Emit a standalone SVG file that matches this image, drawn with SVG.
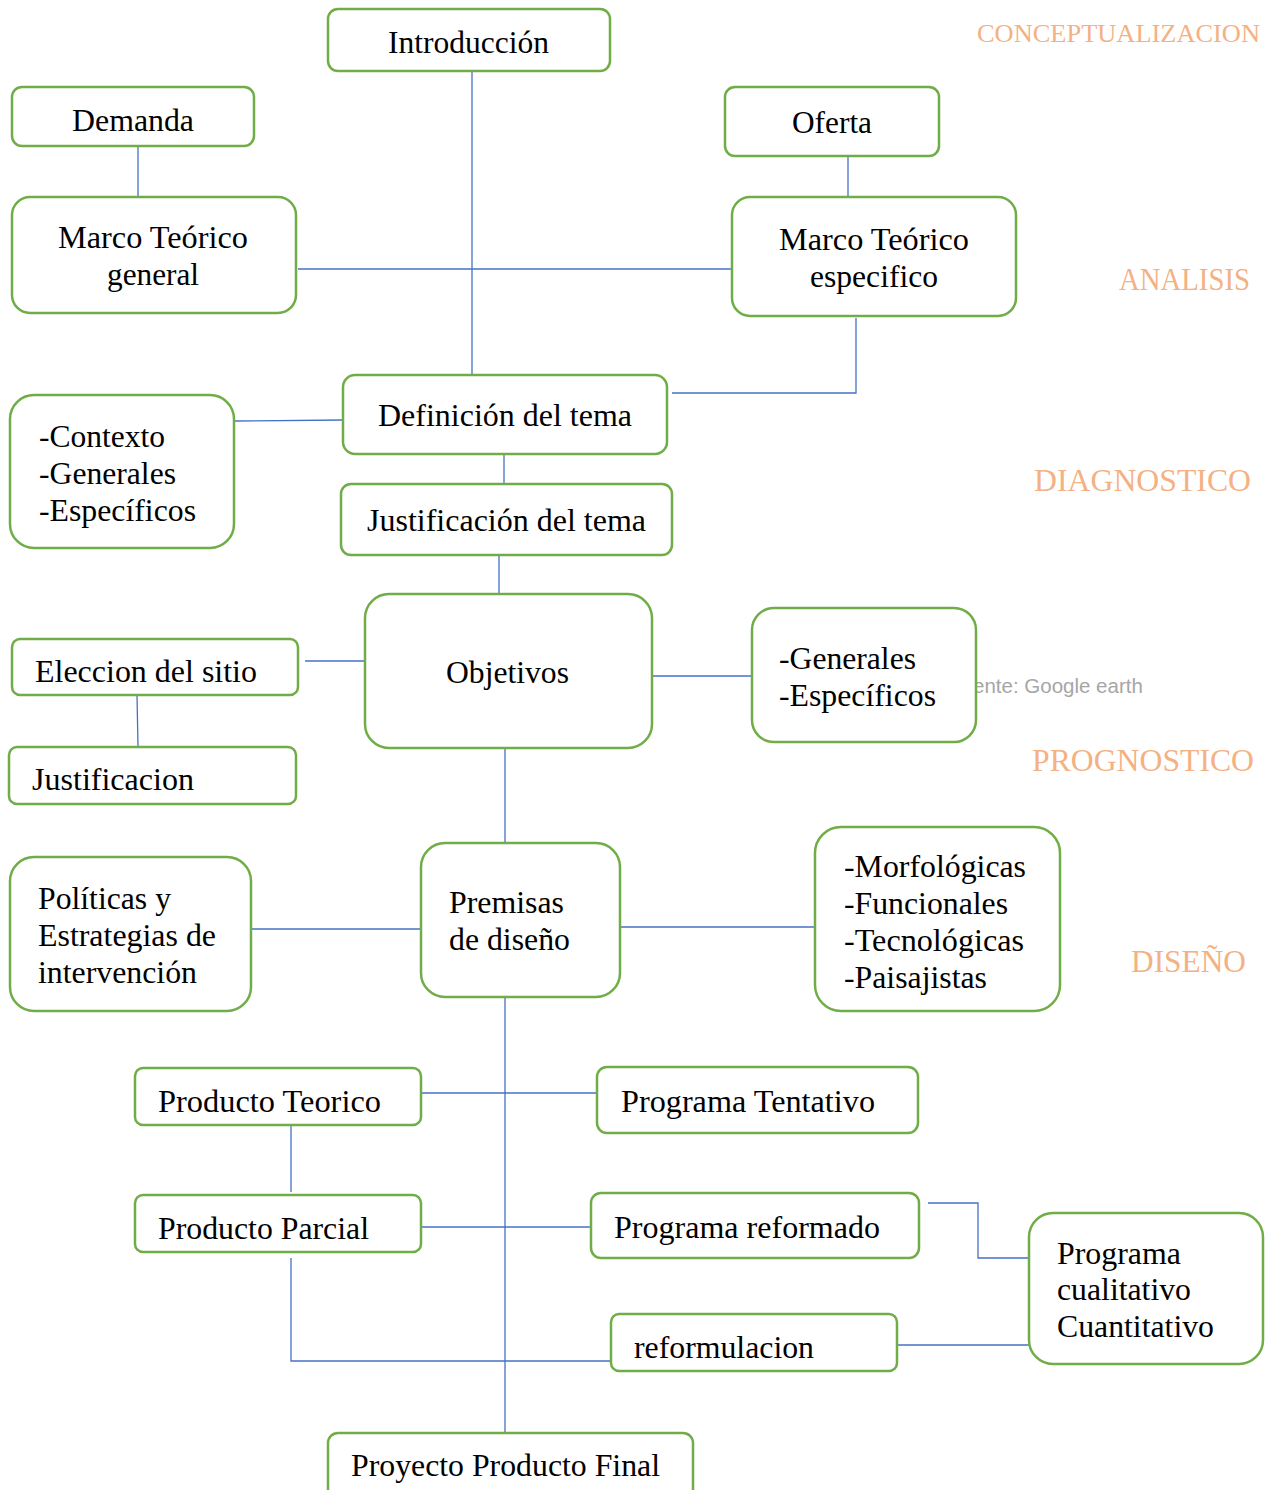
<svg xmlns="http://www.w3.org/2000/svg" width="1274" height="1490" viewBox="0 0 1274 1490">
<style>
.b{fill:#fff;stroke:#70AD47;stroke-width:2.5}
.t{font-family:"Liberation Serif","Times New Roman",serif;font-size:31px;fill:#000}
.o{font-family:"Liberation Serif","Times New Roman",serif;font-size:31px;fill:#F4B183}
.c{fill:none;stroke:#4472C4;stroke-width:1.3}
</style>
<rect width="1274" height="1490" fill="#fff"/>
<text x="973" y="693" font-family="Liberation Sans, Arial, sans-serif" font-size="20.5" fill="#A6A6A6">ente: Google earth</text>
<g id="labels">
<text class="o" x="977" y="42" font-size="26" style="font-size:26px" textLength="283" lengthAdjust="spacingAndGlyphs">CONCEPTUALIZACION</text>
<text class="o" x="1119" y="290" textLength="131" lengthAdjust="spacingAndGlyphs">ANALISIS</text>
<text class="o" x="1034" y="491" textLength="217" lengthAdjust="spacingAndGlyphs">DIAGNOSTICO</text>
<text class="o" x="1032" y="771" textLength="222" lengthAdjust="spacingAndGlyphs">PROGNOSTICO</text>
<text class="o" x="1131" y="972" textLength="115" lengthAdjust="spacingAndGlyphs">DISEÑO</text>
</g>
<g id="connectors">
<path class="c" d="M472 71V375"/>
<path class="c" d="M298 269H732"/>
<path class="c" d="M138 146V197"/>
<path class="c" d="M848 156V197"/>
<path class="c" d="M856 318V393H672"/>
<path class="c" d="M234 421L343 420"/>
<path class="c" d="M504 454V484"/>
<path class="c" d="M499 555V600"/>
<path class="c" d="M305 661H367"/>
<path class="c" d="M137 695L138 747"/>
<path class="c" d="M652 676H752"/>
<path class="c" d="M505 748V843"/>
<path class="c" d="M251 929H421"/>
<path class="c" d="M620 927H815"/>
<path class="c" d="M505 993V1433"/>
<path class="c" d="M421 1093H597"/>
<path class="c" d="M291 1125V1192"/>
<path class="c" d="M421 1227H591"/>
<path class="c" d="M928 1203H978V1258H1029"/>
<path class="c" d="M291 1258V1361H611"/>
<path class="c" d="M897 1345H1029"/>
</g>
<g id="introduccion"><rect class="b" x="328" y="9" width="282" height="62" rx="10"/><text class="t" x="388" y="53" textLength="161" lengthAdjust="spacingAndGlyphs">Introducción</text></g>
<g id="demanda"><rect class="b" x="12" y="87" width="242" height="59" rx="10"/><text class="t" x="72" y="131" textLength="122" lengthAdjust="spacingAndGlyphs">Demanda</text></g>
<g id="oferta"><rect class="b" x="725" y="87" width="214" height="69" rx="10"/><text class="t" x="792" y="133" textLength="80" lengthAdjust="spacingAndGlyphs">Oferta</text></g>
<g id="marco-general"><rect class="b" x="12" y="197" width="284" height="116" rx="18"/><text class="t" x="58" y="248" textLength="190" lengthAdjust="spacingAndGlyphs">Marco Teórico</text><text class="t" x="107" y="285" textLength="92" lengthAdjust="spacingAndGlyphs">general</text></g>
<g id="marco-especifico"><rect class="b" x="732" y="197" width="284" height="119" rx="18"/><text class="t" x="779" y="250" textLength="190" lengthAdjust="spacingAndGlyphs">Marco Teórico</text><text class="t" x="810" y="287" textLength="128" lengthAdjust="spacingAndGlyphs">especifico</text></g>
<g id="definicion"><rect class="b" x="343" y="375" width="324" height="79" rx="12"/><text class="t" x="378" y="426" textLength="254" lengthAdjust="spacingAndGlyphs">Definición del tema</text></g>
<g id="contexto"><rect class="b" x="10" y="395" width="224" height="153" rx="24"/><text class="t" x="39" y="447" textLength="126" lengthAdjust="spacingAndGlyphs">-Contexto</text><text class="t" x="39" y="484" textLength="137" lengthAdjust="spacingAndGlyphs">-Generales</text><text class="t" x="39" y="521" textLength="157" lengthAdjust="spacingAndGlyphs">-Específicos</text></g>
<g id="justificacion-tema"><rect class="b" x="341" y="484" width="331" height="71" rx="10"/><text class="t" x="367" y="531" textLength="279" lengthAdjust="spacingAndGlyphs">Justificación del tema</text></g>
<g id="objetivos"><rect class="b" x="365" y="594" width="287" height="154" rx="24"/><text class="t" x="446" y="683" textLength="123" lengthAdjust="spacingAndGlyphs">Objetivos</text></g>
<g id="eleccion"><rect class="b" x="12" y="639" width="286" height="56" rx="8"/><text class="t" x="35" y="682" textLength="222" lengthAdjust="spacingAndGlyphs">Eleccion del sitio</text></g>
<g id="justificacion"><rect class="b" x="9" y="747" width="287" height="57" rx="8"/><text class="t" x="32" y="790" textLength="162" lengthAdjust="spacingAndGlyphs">Justificacion</text></g>
<g id="generales"><rect class="b" x="752" y="608" width="224" height="134" rx="22"/><text class="t" x="779" y="669" textLength="137" lengthAdjust="spacingAndGlyphs">-Generales</text><text class="t" x="779" y="706" textLength="157" lengthAdjust="spacingAndGlyphs">-Específicos</text></g>
<g id="politicas"><rect class="b" x="10" y="857" width="241" height="154" rx="24"/><text class="t" x="38" y="909" textLength="133" lengthAdjust="spacingAndGlyphs">Políticas y</text><text class="t" x="38" y="946" textLength="178" lengthAdjust="spacingAndGlyphs">Estrategias de</text><text class="t" x="38" y="983" textLength="159" lengthAdjust="spacingAndGlyphs">intervención</text></g>
<g id="premisas"><rect class="b" x="421" y="843" width="199" height="154" rx="24"/><text class="t" x="449" y="913" textLength="115" lengthAdjust="spacingAndGlyphs">Premisas</text><text class="t" x="449" y="950" textLength="121" lengthAdjust="spacingAndGlyphs">de diseño</text></g>
<g id="morfologicas"><rect class="b" x="815" y="827" width="245" height="184" rx="26"/><text class="t" x="844" y="877" textLength="182" lengthAdjust="spacingAndGlyphs">-Morfológicas</text><text class="t" x="844" y="914" textLength="164" lengthAdjust="spacingAndGlyphs">-Funcionales</text><text class="t" x="844" y="951" textLength="180" lengthAdjust="spacingAndGlyphs">-Tecnológicas</text><text class="t" x="844" y="988" textLength="143" lengthAdjust="spacingAndGlyphs">-Paisajistas</text></g>
<g id="producto-teorico"><rect class="b" x="135" y="1068" width="286" height="57" rx="8"/><text class="t" x="158" y="1112" textLength="223" lengthAdjust="spacingAndGlyphs">Producto Teorico</text></g>
<g id="programa-tentativo"><rect class="b" x="597" y="1067" width="321" height="66" rx="10"/><text class="t" x="621" y="1112" textLength="254" lengthAdjust="spacingAndGlyphs">Programa Tentativo</text></g>
<g id="producto-parcial"><rect class="b" x="135" y="1195" width="286" height="57" rx="8"/><text class="t" x="158" y="1239" textLength="211" lengthAdjust="spacingAndGlyphs">Producto Parcial</text></g>
<g id="programa-reformado"><rect class="b" x="591" y="1193" width="328" height="65" rx="10"/><text class="t" x="614" y="1238" textLength="266" lengthAdjust="spacingAndGlyphs">Programa reformado</text></g>
<g id="programa-cualitativo"><rect class="b" x="1029" y="1213" width="234" height="151" rx="24"/><text class="t" x="1057" y="1264" textLength="124" lengthAdjust="spacingAndGlyphs">Programa</text><text class="t" x="1057" y="1300" textLength="134" lengthAdjust="spacingAndGlyphs">cualitativo</text><text class="t" x="1057" y="1337" textLength="157" lengthAdjust="spacingAndGlyphs">Cuantitativo</text></g>
<g id="reformulacion"><rect class="b" x="611" y="1314" width="286" height="57" rx="8"/><text class="t" x="634" y="1358" textLength="180" lengthAdjust="spacingAndGlyphs">reformulacion</text></g>
<g id="proyecto-final"><rect class="b" x="328" y="1433" width="365" height="75" rx="10"/><text class="t" x="351" y="1476" textLength="309" lengthAdjust="spacingAndGlyphs">Proyecto Producto Final</text></g>
</svg>
